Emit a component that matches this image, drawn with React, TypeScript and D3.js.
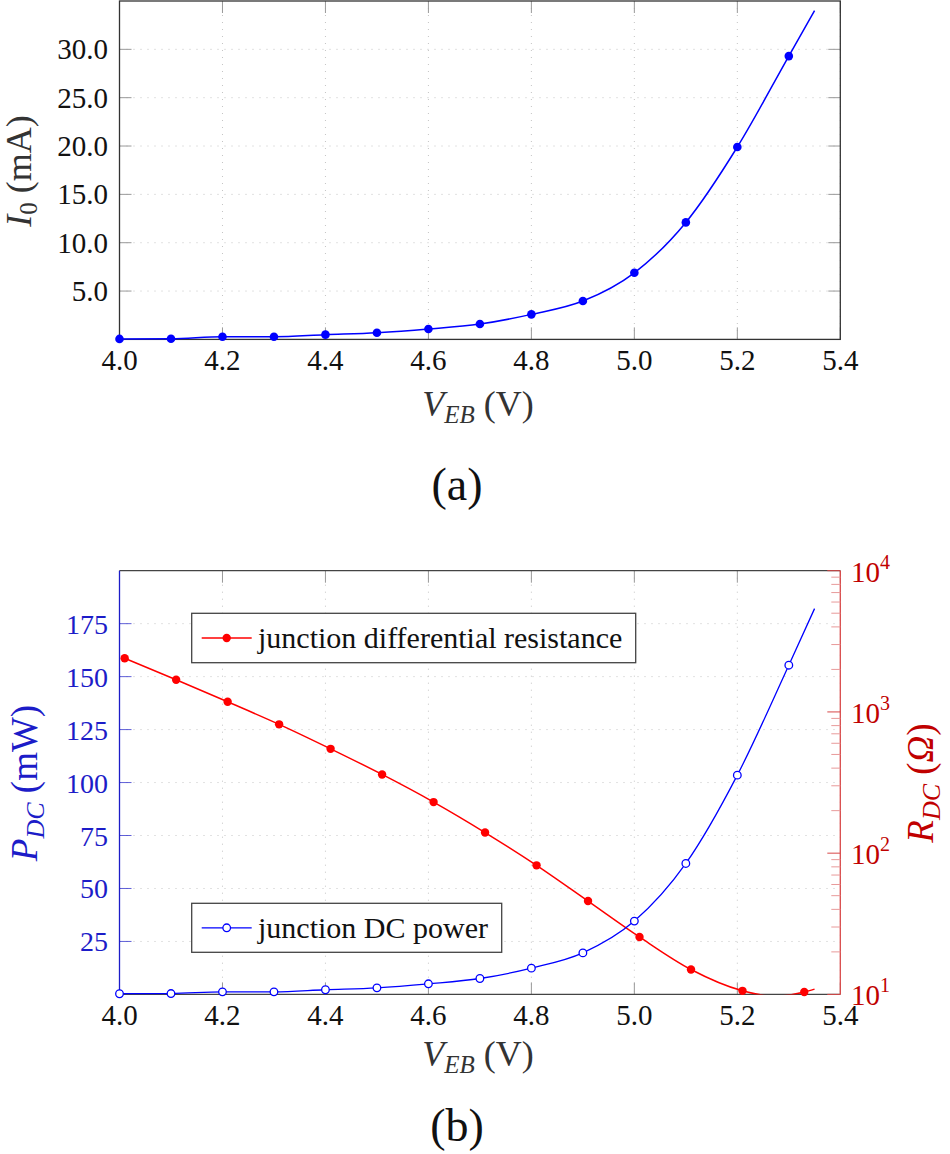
import { scaleLinear, scaleLog, line, curveMonotoneX, range } from 'd3';

const voltage = [4.0, 4.1, 4.2, 4.3, 4.4, 4.5, 4.6, 4.7, 4.8, 4.9, 5.0, 5.1, 5.2, 5.3];
const currentMA = [0.05, 0.07, 0.28, 0.28, 0.49, 0.69, 1.07, 1.59, 2.59, 3.97, 6.89, 12.1, 19.9, 29.3];
const currentEnd = [5.35, 34.0];

const powerMW = [0.3, 0.4, 1.2, 1.2, 2.2, 3.1, 5.0, 7.5, 12.4, 19.6, 34.6, 61.8, 103.5, 155.4];
const powerEnd = [5.35, 182.1];

const resistanceV = [4.01, 4.11, 4.21, 4.31, 4.41, 4.51, 4.61, 4.71, 4.81, 4.91, 5.01, 5.11, 5.21, 5.33];
const resistanceOhm = [2400, 1690, 1180, 817, 548, 361, 230, 140, 82, 45.8, 25.5, 15.0, 10.6, 10.4];
// curve-only points (dip below the axis near 5.27 and end of the line)
const resistanceCurveV = [5.27, 5.35];
const resistanceCurveOhm = [9.7, 10.9];

const xTicks = [4.0, 4.2, 4.4, 4.6, 4.8, 5.0, 5.2, 5.4];
const currentTicks = [5, 10, 15, 20, 25, 30];
const powerTicks = [25, 50, 75, 100, 125, 150, 175];
const resistanceDecades = [1, 2, 3, 4];

const FONT = "'Liberation Serif', 'DejaVu Serif', 'Times New Roman', serif";
const GRID = '#c4c4c4';
const BLUE = '#0000ff';
const RED = '#ff0000';
const BLUE_TXT = '#1c1cc8';
const RED_TXT = '#c00000';

const L = 119.5;
const R = 840.3;

function XAxis({ x, top, bottom, labelY, titleY }: any) {
    return (
        <g>
            {xTicks.map((t) => (
                <g key={t}>
                    <line x1={x(t)} x2={x(t)} y1={top} y2={bottom} stroke={GRID} strokeDasharray="1 6" />
                    <line x1={x(t)} x2={x(t)} y1={bottom} y2={bottom - 12} stroke="#999" />
                    <line x1={x(t)} x2={x(t)} y1={top} y2={top + 12} stroke="#999" />
                    <text x={x(t)} y={labelY} textAnchor="middle" fontSize={29} fill="#111" fontFamily={FONT}>
                        {t.toFixed(1)}
                    </text>
                </g>
            ))}
            <text x={478} y={titleY} textAnchor="middle" fontSize={36} fill="#333" fontFamily={FONT}>
                <tspan fontStyle="italic">V</tspan>
                <tspan fontStyle="italic" fontSize={25} dy={7}>EB</tspan>
                <tspan dy={-7}> (V)</tspan>
            </text>
        </g>
    );
}

function CurrentChart() {
    const T = 1;
    const B = 339.4;
    const x = scaleLinear().domain([4, 5.4]).range([L, R]);
    const y = scaleLinear().domain([0, 35]).range([B, T]);
    const pts = voltage.map((v, i) => [v, currentMA[i]]);
    const path = line<number[]>()
        .x((d) => x(d[0]))
        .y((d) => y(d[1]))
        .curve(curveMonotoneX)([...pts, currentEnd]);
    return (
        <g>
            {currentTicks.map((t) => (
                <g key={t}>
                    <line x1={L} x2={R} y1={y(t)} y2={y(t)} stroke={GRID} strokeDasharray="1 6" />
                    <line x1={L} x2={L + 12} y1={y(t)} y2={y(t)} stroke="#999" />
                    <line x1={R} x2={R - 12} y1={y(t)} y2={y(t)} stroke="#999" />
                    <text x={108} y={y(t) + 10} textAnchor="end" fontSize={29} fill="#111" fontFamily={FONT}>
                        {t.toFixed(1)}
                    </text>
                </g>
            ))}
            <XAxis x={x} top={T} bottom={B} labelY={370} titleY={416} />
            <rect x={L} y={T} width={R - L} height={B - T} fill="none" stroke="#333" strokeWidth={1.3} />
            <path d={path || ''} fill="none" stroke={BLUE} strokeWidth={1.5} />
            {pts.map((d, i) => (
                <circle key={i} cx={x(d[0])} cy={y(d[1])} r={4.3} fill={BLUE} />
            ))}
            <text transform={`translate(31,171) rotate(-90)`} textAnchor="middle" fontSize={36} fill="#333" fontFamily={FONT}>
                <tspan fontStyle="italic">I</tspan>
                <tspan fontSize={25} dy={6}>0</tspan>
                <tspan dy={-6}> (mA)</tspan>
            </text>
            <text x={457} y={500} textAnchor="middle" fontSize={46} fill="#111" fontFamily={FONT}>
                (a)
            </text>
        </g>
    );
}

function PowerChart() {
    const T = 570.7;
    const B = 994.4;
    const x = scaleLinear().domain([4, 5.4]).range([L, R]);
    const yP = scaleLinear().domain([0, 200]).range([B, T]);
    const yR = scaleLog().domain([10, 10000]).range([B, T]);
    const pPts = voltage.map((v, i) => [v, powerMW[i]]);
    const rPts = resistanceV.map((v, i) => [v, resistanceOhm[i]]);
    const rCurve = [...rPts, ...resistanceCurveV.map((v, i) => [v, resistanceCurveOhm[i]])].sort((a, b) => a[0] - b[0]);
    const pPath = line<number[]>()
        .x((d) => x(d[0]))
        .y((d) => yP(d[1]))
        .curve(curveMonotoneX)([...pPts, powerEnd]);
    const rPath = line<number[]>()
        .x((d) => x(d[0]))
        .y((d) => yR(d[1]))
        .curve(curveMonotoneX)(rCurve);
    const minor: number[] = [];
    resistanceDecades.slice(0, 3).forEach((e) => range(2, 10).forEach((m) => minor.push(m * Math.pow(10, e))));
    return (
        <g>
            <defs>
                <clipPath id="plotB">
                    <rect x={L} y={T} width={R - L} height={B - T} />
                </clipPath>
            </defs>
            {powerTicks.map((t) => (
                <g key={t}>
                    <line x1={L} x2={R} y1={yP(t)} y2={yP(t)} stroke={GRID} strokeDasharray="1 6" />
                    <line x1={L} x2={L + 12} y1={yP(t)} y2={yP(t)} stroke={BLUE_TXT} strokeOpacity={0.7} />
                    <text x={108} y={yP(t) + 10} textAnchor="end" fontSize={28} fill={BLUE_TXT} fontFamily={FONT}>
                        {t}
                    </text>
                </g>
            ))}
            <XAxis x={x} top={T} bottom={B} labelY={1025} titleY={1066} />
            <line x1={L} x2={R} y1={T} y2={T} stroke="#444" strokeWidth={1.3} />
            <line x1={L} x2={R} y1={B} y2={B} stroke="#444" strokeWidth={1.3} />
            <line x1={L} x2={L} y1={T} y2={B} stroke={BLUE_TXT} strokeWidth={1.3} />
            <line x1={R} x2={R} y1={T} y2={B} stroke="#d84848" strokeWidth={1.3} />
            {minor.map((m) => (
                <line key={m} x1={R - 9} x2={R} y1={yR(m)} y2={yR(m)} stroke="#e89a9a" />
            ))}
            {resistanceDecades.map((e) => (
                <g key={e}>
                    <line x1={R - 13} x2={R} y1={yR(Math.pow(10, e))} y2={yR(Math.pow(10, e))} stroke="#d84848" />
                    <text x={851} y={yR(Math.pow(10, e)) + 11} fontSize={29} fill={RED_TXT} fontFamily={FONT}>
                        10
                        <tspan fontSize={20} dy={-13}>{e}</tspan>
                    </text>
                </g>
            ))}
            <g clipPath="url(#plotB)">
                <path d={rPath || ''} fill="none" stroke={RED} strokeWidth={1.5} />
                <path d={pPath || ''} fill="none" stroke={BLUE} strokeWidth={1.3} />
            </g>
            {rPts.map((d, i) => (
                <circle key={i} cx={x(d[0])} cy={yR(d[1])} r={4.2} fill={RED} />
            ))}
            {pPts.map((d, i) => (
                <circle key={i} cx={x(d[0])} cy={yP(d[1])} r={3.8} fill="white" stroke={BLUE} strokeWidth={1.3} />
            ))}
            {/* legends */}
            <rect x={191.7} y={613.3} width={444} height={49.4} fill="white" stroke="#444" strokeWidth={1.3} />
            <line x1={201.7} x2={251.7} y1={638} y2={638} stroke={RED} strokeWidth={1.5} />
            <circle cx={226.7} cy={638} r={4.2} fill={RED} />
            <text x={258} y={648} fontSize={30} fill="#111" fontFamily={FONT}>
                junction differential resistance
            </text>
            <rect x={191.7} y={903.3} width={310} height={49} fill="white" stroke="#444" strokeWidth={1.3} />
            <line x1={201.7} x2={251.7} y1={927.8} y2={927.8} stroke={BLUE} strokeWidth={1.3} />
            <circle cx={226.7} cy={927.8} r={3.8} fill="white" stroke={BLUE} strokeWidth={1.3} />
            <text x={258} y={938} fontSize={30} fill="#111" fontFamily={FONT}>
                junction DC power
            </text>
            <text transform={`translate(37,783) rotate(-90)`} textAnchor="middle" fontSize={37} fill={BLUE_TXT} fontFamily={FONT}>
                <tspan fontStyle="italic">P</tspan>
                <tspan fontStyle="italic" fontSize={26} dy={7}>DC</tspan>
                <tspan dy={-7}> (mW)</tspan>
            </text>
            <text transform={`translate(933,783) rotate(-90)`} textAnchor="middle" fontSize={37} fill={RED_TXT} fontFamily={FONT}>
                <tspan fontStyle="italic">R</tspan>
                <tspan fontStyle="italic" fontSize={26} dy={7}>DC</tspan>
                <tspan dy={-7}> (</tspan>
                <tspan fontStyle="italic">Ω</tspan>
                <tspan>)</tspan>
            </text>
            <text x={457} y={1141} textAnchor="middle" fontSize={46} fill="#111" fontFamily={FONT}>
                (b)
            </text>
        </g>
    );
}

export default function App() {
    return (
        <div>
            <style>{`body{margin:0}`}</style>
            <svg width={950} height={1154} style={{ display: 'block', background: 'white' }}>
                <CurrentChart />
                <PowerChart />
            </svg>
        </div>
    );
}
